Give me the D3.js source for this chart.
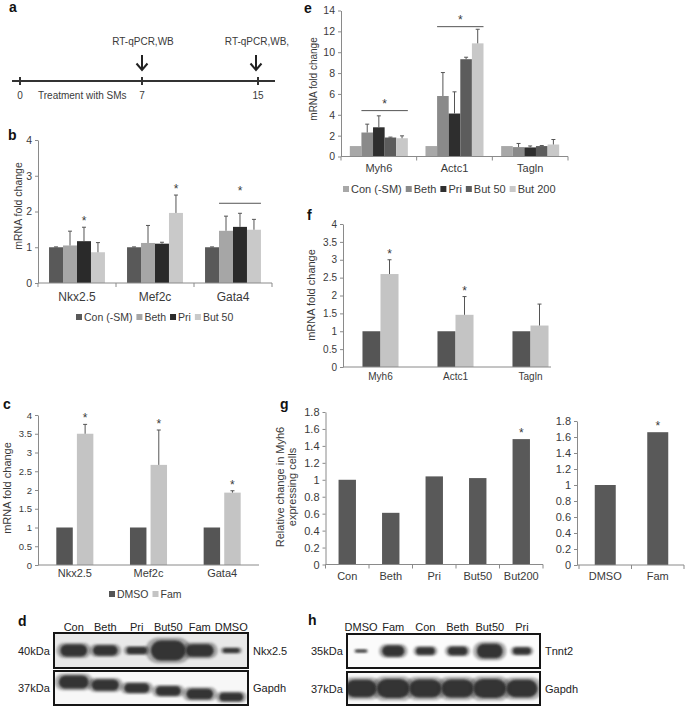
<!DOCTYPE html>
<html>
<head>
<meta charset="utf-8">
<script src="https://cdn.jsdelivr.net/npm/d3@7"></script>
<style>
  body { margin: 0; background: #fff; }
  text { font-family: "Liberation Sans", Arial, sans-serif; }
</style>
</head>
<body>
<script>
// ---- data ----
var timelineDays = [0, 7, 15];
var timelineNotes = [{day: 7, text: "RT-qPCR,WB"}, {day: 15, text: "RT-qPCR,WB,"}];

var bGenes = ["Nkx2.5", "Mef2c", "Gata4"];
var bGroups = ["Con (-SM)", "Beth", "Pri", "But 50"];
var bMeans = [[1, 1.05, 1.17, 0.86], [1, 1.12, 1.1, 1.96], [1, 1.46, 1.57, 1.49]];
var bErrs = [[0.01, 0.4, 0.39, 0.27], [0.01, 0.49, 0.04, 0.5], [0.01, 0.41, 0.38, 0.29]];
var bTicks = [0, 1, 2, 3, 4];
var bStars = [["Nkx2.5", "Pri"], ["Mef2c", "But 50"]];
var bBrackets = [{gene: "Gata4", from: "Beth", to: "But 50", value: 2.23}];

var cGenes = ["Nkx2.5", "Mef2c", "Gata4"];
var cGroups = ["DMSO", "Fam"];
var cMeans = [[1, 3.5], [1, 2.67], [1, 1.93]];
var cErrs = [[0, 0.25], [0, 0.93], [0, 0.05]];
var cTicks = [0, 0.5, 1, 1.5, 2, 2.5, 3, 3.5, 4];
var cStars = [["Nkx2.5", "Fam"], ["Mef2c", "Fam"], ["Gata4", "Fam"]];

var eGenes = ["Myh6", "Actc1", "Tagln"];
var eGroups = ["Con (-SM)", "Beth", "Pri", "But 50", "But 200"];
var eMeans = [[1, 2.3, 2.8, 1.82, 1.75], [1, 5.8, 4.12, 9.33, 10.85], [1, 0.9, 0.87, 1.0, 1.15]];
var eErrs = [[0, 0.8, 1.1, 0.04, 0.23], [0, 2.25, 2.08, 0.19, 1.35], [0, 0.35, 0.14, 0.05, 0.48]];
var eTicks = [0, 2, 4, 6, 8, 10, 12, 14];
var eBrackets = [{gene: "Myh6", from: "Beth", to: "But 200", value: 4.4},
                 {gene: "Actc1", from: "Beth", to: "But 200", value: 12.45}];

var fGenes = ["Myh6", "Actc1", "Tagln"];
var fGroups = ["DMSO", "Fam"];
var fMeans = [[1, 2.6], [1, 1.46], [1, 1.16]];
var fErrs = [[0, 0.4], [0, 0.51], [0, 0.6]];
var fTicks = [0, 0.5, 1, 1.5, 2, 2.5, 3, 3.5, 4];
var fStars = [["Myh6", "Fam"], ["Actc1", "Fam"]];

var gCats = ["Con", "Beth", "Pri", "But50", "But200"];
var gVals = [1, 0.61, 1.04, 1.02, 1.48];
var g2Cats = ["DMSO", "Fam"];
var g2Vals = [1, 1.66];
var gTicks = [0, 0.2, 0.4, 0.6, 0.8, 1, 1.2, 1.4, 1.6, 1.8];

var dLanes = ["Con", "Beth", "Pri", "But50", "Fam", "DMSO"];
var dNkx = [1.3, 1.1, 0.75, 2.2, 1.4, 0.5];
var dGapdh = [1.6, 1.35, 1.15, 1.15, 1.3, 1.05];
var hLanes = ["DMSO", "Fam", "Con", "Beth", "But50", "Pri"];
var hTnnt2 = [0.35, 1.4, 1.0, 1.1, 1.9, 0.9];
var hGapdh = [2.0, 2.2, 2.1, 2.1, 2.2, 2.0];

// ---- drawing ----
var svg = d3.select("body").append("svg")
  .attr("width", 685)
  .attr("height", 706);

var defs = svg.append("defs");
defs.append("filter")
  .attr("id", "blur")
  .attr("x", "-50%").attr("y", "-50%").attr("width", "200%").attr("height", "200%")
  .append("feGaussianBlur")
    .attr("stdDeviation", 1.3);

var AXIS = "#8a8a8a";
var INK = "#3a3a3a";
var fmt = function (d) { return String(+d.toFixed(1)); };

function panelLetter(t, x, y) {
  svg.append("text")
    .attr("x", x).attr("y", y)
    .attr("font-size", 14)
    .attr("font-weight", "bold")
    .attr("fill", "#111")
    .text(t);
}

function yTitle(lines, x, y, fs) {
  var t = svg.append("text")
    .attr("transform", "translate(" + x + "," + y + ") rotate(-90)")
    .attr("text-anchor", "middle")
    .attr("font-size", fs)
    .attr("fill", INK);
  lines.forEach(function (l, i) {
    t.append("tspan")
      .attr("x", 0)
      .attr("dy", i === 0 ? 0 : fs * 1.05)
      .text(l);
  });
}

function legend(items, colors, x, y, fs) {
  var g = svg.append("g").attr("transform", "translate(" + x + "," + y + ")");
  var cx = 0;
  items.forEach(function (it, i) {
    g.append("rect")
      .attr("x", cx).attr("y", -3)
      .attr("width", 6).attr("height", 6)
      .attr("fill", colors[i]);
    var t = g.append("text")
      .attr("x", cx + 8).attr("y", fs * 0.36)
      .attr("font-size", fs)
      .attr("fill", INK)
      .text(it);
    cx += 8 + t.node().getComputedTextLength() + 4;
  });
}

function barPanel(c) {
  var g = svg.append("g");
  var x0 = d3.scaleBand().domain(c.genes).range(c.xRange).paddingInner(0);
  var x1 = d3.scaleBand().domain(c.groups).range([0, x0.bandwidth()])
    .paddingInner(c.barGap || 0).paddingOuter(c.barOuter);
  var y = d3.scaleLinear().domain(c.yDomain).range(c.yRange);
  var color = d3.scaleOrdinal().domain(c.groups).range(c.colors);

  var rows = [];
  c.genes.forEach(function (gene, i) {
    c.groups.forEach(function (grp, j) {
      rows.push({gene: gene, grp: grp, v: c.means[i][j], e: c.errs ? c.errs[i][j] : 0});
    });
  });
  var cx = function (gene, grp) { return x0(gene) + x1(grp) + x1.bandwidth() / 2; };

  g.selectAll("rect.bar").data(rows).join("rect")
    .attr("class", "bar")
    .attr("x", function (d) { return x0(d.gene) + x1(d.grp); })
    .attr("y", function (d) { return y(d.v); })
    .attr("width", x1.bandwidth())
    .attr("height", function (d) { return y(0) - y(d.v); })
    .attr("fill", function (d) { return color(d.grp); });

  var eb = rows.filter(function (d) { return d.e > 0; });
  g.selectAll("line.err").data(eb).join("line")
    .attr("class", "err")
    .attr("x1", function (d) { return cx(d.gene, d.grp); })
    .attr("x2", function (d) { return cx(d.gene, d.grp); })
    .attr("y1", function (d) { return y(d.v); })
    .attr("y2", function (d) { return y(d.v + d.e); })
    .attr("stroke", "#555").attr("stroke-width", 1);
  g.selectAll("line.cap").data(eb).join("line")
    .attr("class", "cap")
    .attr("x1", function (d) { return cx(d.gene, d.grp) - 2; })
    .attr("x2", function (d) { return cx(d.gene, d.grp) + 2; })
    .attr("y1", function (d) { return y(d.v + d.e); })
    .attr("y2", function (d) { return y(d.v + d.e); })
    .attr("stroke", "#555").attr("stroke-width", 1);

  // stars over single bars
  (c.stars || []).forEach(function (s) {
    var r = rows.find(function (d) { return d.gene === s[0] && d.grp === s[1]; });
    g.append("text")
      .attr("x", cx(s[0], s[1]))
      .attr("y", y(r.v + r.e) - 2)
      .attr("text-anchor", "middle")
      .attr("font-size", 12)
      .attr("fill", INK)
      .text("*");
  });
  // brackets spanning several bars
  (c.brackets || []).forEach(function (b) {
    var xa = x0(b.gene) + x1(b.from);
    var xb = x0(b.gene) + x1(b.to) + x1.bandwidth();
    g.append("line")
      .attr("x1", xa).attr("x2", xb)
      .attr("y1", y(b.value)).attr("y2", y(b.value))
      .attr("stroke", "#555");
    g.append("text")
      .attr("x", (xa + xb) / 2)
      .attr("y", y(b.value) - c.bracketGap)
      .attr("text-anchor", "middle")
      .attr("font-size", 12)
      .attr("fill", INK)
      .text("*");
  });

  // y axis
  var ya = g.append("g")
    .attr("transform", "translate(" + c.yAxisX + ",0)")
    .call(d3.axisLeft(y).tickValues(c.ticks).tickFormat(fmt).tickSize(3).tickSizeOuter(0).tickPadding(3));
  ya.selectAll("path, line").attr("stroke", AXIS);
  ya.selectAll("text").attr("font-size", c.tickFont).attr("fill", INK)
    .attr("font-family", "Liberation Sans, Arial, sans-serif");

  // x axis
  var xEnd = c.axisEnd || c.xRange[1];
  g.append("line")
    .attr("x1", c.yAxisX).attr("x2", xEnd)
    .attr("y1", y(0)).attr("y2", y(0))
    .attr("stroke", AXIS);
  if (c.xTicks) {
    var bounds = c.genes.map(function (gn) { return x0(gn); }).concat([c.xRange[1]]);
    g.selectAll("line.xt").data(bounds).join("line")
      .attr("class", "xt")
      .attr("x1", function (d) { return d; }).attr("x2", function (d) { return d; })
      .attr("y1", y(0)).attr("y2", y(0) + 4)
      .attr("stroke", AXIS);
  }
  g.selectAll("text.cat").data(c.genes).join("text")
    .attr("class", "cat")
    .attr("x", function (d) { return x0(d) + x0.bandwidth() / 2; })
    .attr("y", y(0) + c.labelDy)
    .attr("text-anchor", "middle")
    .attr("font-size", c.labelFont)
    .attr("fill", INK)
    .text(function (d) { return d; });
}

function blot(c) {
  var lane = d3.scaleBand().domain(c.lanes).range(c.xRange);
  svg.selectAll(null).data(c.lanes).join("text")
    .attr("x", function (d) { return lane(d) + lane.bandwidth() / 2; })
    .attr("y", c.headerY)
    .attr("text-anchor", "middle")
    .attr("font-size", 11)
    .attr("fill", "#222")
    .text(function (d) { return d; });

  c.rows.forEach(function (r, ri) {
    var id = c.id + "-clip" + ri;
    defs.append("clipPath").attr("id", id)
      .append("rect")
        .attr("x", c.box[0]).attr("y", r.y0)
        .attr("width", c.box[1] - c.box[0]).attr("height", r.y1 - r.y0);
    svg.append("rect")
      .attr("x", c.box[0]).attr("y", r.y0)
      .attr("width", c.box[1] - c.box[0]).attr("height", r.y1 - r.y0)
      .attr("fill", r.bg);
    var w = d3.scaleSqrt().domain([0, 2.2]).range([0, r.wMax]);
    var h = d3.scaleLinear().domain([0, 2.2]).range([0, r.hMax]);
    var drift = d3.scaleLinear().domain([0, c.lanes.length - 1]).range(r.drift || [0, 0]);
    var yc = (r.y0 + r.y1) / 2;
    var bands = svg.append("g").attr("clip-path", "url(#" + id + ")");
    var data = r.values.map(function (k, i) { return {k: k, i: i, lane: c.lanes[i]}; });
    [[1.3, 0.35], [1, 0.95]].forEach(function (layer) {
      bands.selectAll(null).data(data).join("rect")
        .attr("x", function (d) { return lane(d.lane) + lane.bandwidth() / 2 - w(d.k) * layer[0] / 2; })
        .attr("y", function (d) { return yc + drift(d.i) - h(d.k) * layer[0] / 2; })
        .attr("width", function (d) { return w(d.k) * layer[0]; })
        .attr("height", function (d) { return h(d.k) * layer[0]; })
        .attr("rx", function (d) { return h(d.k) * layer[0] / 2; })
        .attr("fill", "#2f2f2f")
        .attr("opacity", layer[1])
        .attr("filter", "url(#blur)");
    });
    svg.append("rect")
      .attr("x", c.box[0]).attr("y", r.y0)
      .attr("width", c.box[1] - c.box[0]).attr("height", r.y1 - r.y0)
      .attr("fill", "none").attr("stroke", "#151515").attr("stroke-width", 2);
    svg.append("text")
      .attr("x", c.leftX).attr("y", yc + 4)
      .attr("font-size", 11).attr("fill", "#222")
      .text(r.kda);
    svg.append("text")
      .attr("x", c.box[1] + 5).attr("y", yc + 4)
      .attr("font-size", 11).attr("fill", "#222")
      .text(r.name);
  });
}

// a: timeline
panelLetter("a", 9, 12);
var tl = d3.scaleLinear().domain(timelineDays).range([20, 142, 258]);
svg.append("line")
  .attr("x1", 12).attr("x2", 275).attr("y1", 81).attr("y2", 81)
  .attr("stroke", "#333").attr("stroke-width", 2);
svg.selectAll("line.tl").data(timelineDays).join("line")
  .attr("class", "tl")
  .attr("x1", tl).attr("x2", tl)
  .attr("y1", 77).attr("y2", 85)
  .attr("stroke", "#333").attr("stroke-width", 2);
svg.selectAll("text.tl").data(timelineDays).join("text")
  .attr("class", "tl")
  .attr("x", tl).attr("y", 99)
  .attr("text-anchor", "middle")
  .attr("font-size", 10).attr("fill", INK)
  .text(function (d) { return d; });
svg.append("text")
  .attr("x", tl(0) + 18).attr("y", 99)
  .attr("font-size", 10).attr("fill", INK)
  .text("Treatment with SMs");
timelineNotes.forEach(function (n) {
  var x = tl(n.day) - (n.day === 15 ? 2 : 0);
  svg.append("text")
    .attr("x", x + 1).attr("y", 45)
    .attr("text-anchor", "middle")
    .attr("font-size", 10).attr("fill", INK)
    .text(n.text);
  svg.append("path")
    .attr("d", "M" + x + ",55V70M" + (x - 5.5) + ",63.5L" + x + ",70L" + (x + 5.5) + ",63.5")
    .attr("fill", "none").attr("stroke", "#222").attr("stroke-width", 2);
});

// b
panelLetter("b", 8, 140);
barPanel({
  genes: bGenes, groups: bGroups, means: bMeans, errs: bErrs,
  colors: ["#595959", "#a6a6a6", "#2a2a2a", "#c9c9c9"],
  xRange: [38, 272], yDomain: [0, 4], yRange: [283, 140], yAxisX: 38,
  ticks: bTicks, tickFont: 10.5, labelFont: 12, labelDy: 18, barOuter: 0.79,
  xTicks: true, stars: bStars, brackets: bBrackets, bracketGap: 8
});
yTitle(["mRNA fold change"], 22, 206, 10.5);
legend(bGroups, ["#595959", "#a6a6a6", "#2a2a2a", "#c9c9c9"], 76, 317, 10.5);

// c
panelLetter("c", 3, 409);
barPanel({
  genes: cGenes, groups: cGroups, means: cMeans, errs: cErrs,
  colors: ["#555555", "#c4c4c4"],
  xRange: [38, 259], yDomain: [0, 4], yRange: [565, 415], yAxisX: 38,
  ticks: cTicks, tickFont: 9.5, labelFont: 11, labelDy: 12, barGap: 0.2, barOuter: 0.89,
  xTicks: false, stars: cStars
});
yTitle(["mRNA fold change"], 11, 488, 11);
legend(cGroups, ["#555555", "#c4c4c4"], 109, 594, 10.5);

// d
panelLetter("d", 18, 626);
blot({
  id: "d", lanes: dLanes, xRange: [58, 247], box: [54, 248], headerY: 631, leftX: 18,
  rows: [
    {y0: 633, y1: 668, bg: "#e9e9e9", values: dNkx, wMax: 35, hMax: 20, kda: "40kDa", name: "Nkx2.5"},
    {y0: 671, y1: 705, bg: "#f7f7f7", values: dGapdh, wMax: 35, hMax: 18, drift: [-6, 9], kda: "37kDa", name: "Gapdh"}
  ]
});

// e
panelLetter("e", 304, 13);
barPanel({
  genes: eGenes, groups: eGroups, means: eMeans, errs: eErrs,
  colors: ["#a8a8a8", "#8a8a8a", "#2e2e2e", "#5c5c5c", "#c8c8c8"],
  xRange: [341, 568], yDomain: [0, 14], yRange: [156.5, 10.5], yAxisX: 341,
  ticks: eTicks, tickFont: 10.5, labelFont: 11, labelDy: 15, barOuter: 0.76,
  xTicks: true, brackets: eBrackets, bracketGap: 3
});
yTitle(["mRNA fold change"], 317, 79, 10);
legend(eGroups, ["#a8a8a8", "#8a8a8a", "#2e2e2e", "#5c5c5c", "#c8c8c8"], 343, 189, 11);

// f
panelLetter("f", 307, 220);
barPanel({
  genes: fGenes, groups: fGroups, means: fMeans, errs: fErrs,
  colors: ["#555555", "#c4c4c4"],
  xRange: [343, 568], yDomain: [0, 4], yRange: [367, 224], yAxisX: 343, axisEnd: 551,
  ticks: fTicks, tickFont: 10, labelFont: 10, labelDy: 13, barOuter: 1.08,
  xTicks: false, stars: fStars
});
yTitle(["mRNA fold change"], 315, 295, 11);

// g
panelLetter("g", 280, 409);
barPanel({
  genes: gCats, groups: ["v"], means: gVals.map(function (v) { return [v]; }),
  colors: ["#595959"],
  xRange: [325.5, 543], yDomain: [0, 1.8], yRange: [564.5, 412], yAxisX: 325.5,
  ticks: gTicks, tickFont: 11, labelFont: 11, labelDy: 15, barOuter: 0.75,
  xTicks: true, stars: [["But200", "v"]]
});
barPanel({
  genes: g2Cats, groups: ["v"], means: g2Vals.map(function (v) { return [v]; }),
  colors: ["#595959"],
  xRange: [579, 684], yDomain: [0, 1.8], yRange: [565, 421], yAxisX: 577,
  ticks: gTicks, tickFont: 11, labelFont: 11, labelDy: 15, barOuter: 0.75,
  xTicks: true, stars: [["Fam", "v"]]
});
yTitle(["Relative change in Myh6", "expressing cells"], 284, 487, 11);

// h
panelLetter("h", 308, 625);
blot({
  id: "h", lanes: hLanes, xRange: [345, 538], box: [347, 540], headerY: 631, leftX: 311,
  rows: [
    {y0: 634, y1: 668, bg: "#fbfbfb", values: hTnnt2, wMax: 28, hMax: 17, kda: "35kDa", name: "Tnnt2"},
    {y0: 672, y1: 705, bg: "#f8f8f8", values: hGapdh, wMax: 33, hMax: 19, kda: "37kDa", name: "Gapdh"}
  ]
});
</script>
</body>
</html>
